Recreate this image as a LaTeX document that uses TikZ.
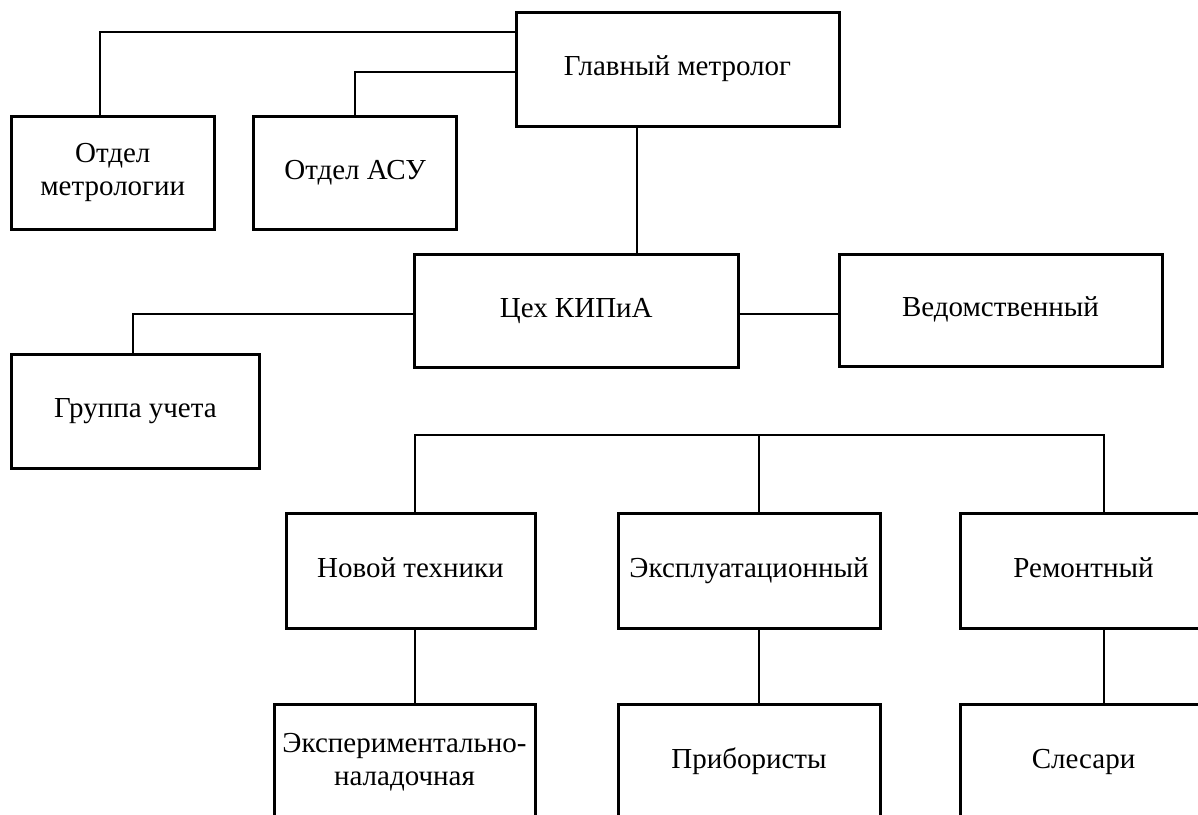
\documentclass[tikz,border=0pt]{standalone}
\usepackage{fontspec}
\setmainfont{Liberation Serif}
\begin{document}
\begin{tikzpicture}[x=1pt,y=-1pt,
  box/.style={draw=black,line width=3pt,rectangle,inner sep=0pt,outer sep=0pt,align=center,
    font=\fontsize{29}{33}\selectfont},
  conn/.style={draw=black,line width=1.6pt}]
\useasboundingbox (0,0) rectangle (1198,814);
\clip (0,0) rectangle (1198,814);
% top level
\node[box,minimum width=323pt,minimum height=114pt] (gm) at (677.5,69) {\strut Главный метролог};
\node[box,minimum width=202.5pt,minimum height=113pt] (om) at (112.75,172.5) {\strut Отдел\\\strut метрологии};
\node[box,minimum width=203pt,minimum height=113pt] (asu) at (355.15,172.5) {\strut Отдел АСУ};
\node[box,minimum width=323.5pt,minimum height=113pt] (ceh) at (576.25,310.5) {\strut Цех КИПиА};
\node[box,minimum width=323pt,minimum height=112pt] (ved) at (1000.5,310) {\strut Ведомственный};
\node[box,minimum width=248pt,minimum height=114pt] (gu) at (135.5,411) {\strut Группа учета};
% third row
\node[box,minimum width=249pt,minimum height=115pt] (nt) at (410.5,570.5) {\strut Новой техники};
\node[box,minimum width=262pt,minimum height=115pt] (expl) at (749,570.5) {\strut Эксплуатационный};
\node[box,minimum width=247pt,minimum height=115pt] (rem) at (1083.5,570.5) {\strut Ремонтный};
% bottom row
\node[box,minimum width=261pt,minimum height=115pt] (exper) at (404.5,762) {\strut Экспериментально-\\\strut наладочная};
\node[box,minimum width=262pt,minimum height=115pt] (prib) at (749,762) {\strut Прибористы};
\node[box,minimum width=247pt,minimum height=115pt] (sles) at (1083.5,762) {\strut Слесари};
% connectors
\draw[conn] (gm.west |- 0,32) -| (100,0 |- om.north);
\draw[conn] (gm.west |- 0,72) -| (asu.north);
\draw[conn] (637,0 |- gm.south) -- (637,0 |- ceh.north);
\draw[conn] (ceh.east |- 0,314) -- (ved.west |- 0,314);
\draw[conn] (ceh.west |- 0,314) -| (133,0 |- gu.north);
\coordinate (busL) at (415,435);
\coordinate (busM) at (759,435);
\coordinate (busR) at (1104,435);
\draw[conn] (415,0 |- nt.north) -- (busL) -- (busR) -- (1104,0 |- rem.north);
\draw[conn] (busM) -- (759,0 |- expl.north);
\draw[conn] (415,0 |- nt.south) -- (415,0 |- exper.north);
\draw[conn] (759,0 |- expl.south) -- (759,0 |- prib.north);
\draw[conn] (1104,0 |- rem.south) -- (1104,0 |- sles.north);
\end{tikzpicture}
\end{document}
